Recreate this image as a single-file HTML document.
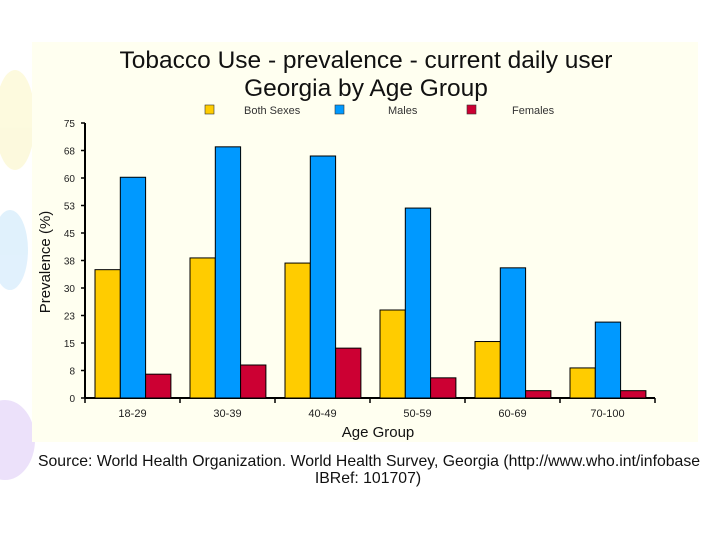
<!DOCTYPE html>
<html><head><meta charset="utf-8"><style>
body{margin:0;width:720px;height:540px;background:#fff;overflow:hidden;font-family:"Liberation Sans",sans-serif;}
</style></head><body>
<svg id="c" width="720" height="540" xmlns="http://www.w3.org/2000/svg">
<g opacity="0.35">
<ellipse cx="5" cy="440" rx="30" ry="40" fill="#c9a8f0"/>
<ellipse cx="10" cy="250" rx="18" ry="40" fill="#a8d8f8"/>
<ellipse cx="15" cy="120" rx="20" ry="50" fill="#f8f0a0"/>
</g>
<rect x="32" y="42" width="666" height="400" fill="#fffff0"/>
<text x="366" y="68" font-size="24.5" text-anchor="middle" fill="#111">Tobacco Use - prevalence - current daily user</text>
<text x="366" y="96" font-size="24.5" text-anchor="middle" fill="#111">Georgia by Age Group</text>
<g id="legend"></g>
<g id="grid"></g>
<g id="bars"></g>
<text x="50" y="262" font-size="15" text-anchor="middle" transform="rotate(-90 50 262)" fill="#111">Prevalence (%)</text>
<text x="378" y="437" font-size="15" text-anchor="middle" fill="#111">Age Group</text>
<text x="369" y="466" font-size="15.8" text-anchor="middle" fill="#111">Source: World Health Organization. World Health Survey, Georgia  (http://www.who.int/infobase</text>
<text x="368" y="483" font-size="15.8" text-anchor="middle" fill="#111">IBRef: 101707)</text>
</svg>
<script>
const categories=["18-29","30-39","40-49","50-59","60-69","70-100"];
const bothSexes=[35,38.2,36.8,24,15.4,8.2];
const males=[60.2,68.5,66,51.8,35.5,20.7];
const females=[6.5,9,13.6,5.5,2,2];
const tickLabels=["0","8","15","23","30","38","45","53","60","68","75"];
const seriesNames=["Both Sexes","Males","Females"];
const colors=["#ffcc00","#0099ff","#cc0033"];
const NS="http://www.w3.org/2000/svg";
const x0=85,x1=655,y0=398,yTop=123,yMax=75;
const yS=v=>y0-(v/yMax)*(y0-yTop);
const gw=(x1-x0)/categories.length;
const xS=i=>x0+i*gw;
function mk(t,a,p){const e=document.createElementNS(NS,t);for(const k in a)e.setAttribute(k,a[k]);p.appendChild(e);return e;}
const grid=document.getElementById('grid');
const ax=mk('line',{x1:x0,y1:yTop,x2:x0,y2:y0,stroke:'#000','stroke-width':2},grid);


const bx=mk('line',{x1:x0,y1:y0,x2:x1,y2:y0,stroke:'#000','stroke-width':2},grid);


tickLabels.forEach((l,i)=>{const v=i*7.5;const y=yS(v);
mk('line',{x1:x0-4,y1:y,x2:x0,y2:y,stroke:'#000','stroke-width':1.5},grid);
const t=mk('text',{x:x0-10,y:y+4,'font-size':10,'text-anchor':'end',fill:'#222'},grid);t.textContent=l;

});
for(let i=0;i<=categories.length;i++){mk('line',{x1:xS(i),y1:y0,x2:xS(i),y2:y0+5,stroke:'#000','stroke-width':1.5},grid);}
const bars=document.getElementById('bars');
const series=[bothSexes,males,females];const bw=25.3;
categories.forEach((c,i)=>{
 series.forEach((s,j)=>{const bxp=xS(i)+10+j*bw;const r=mk('rect',{x:bxp,y:yS(s[i]),width:bw,height:y0-yS(s[i]),fill:colors[j],stroke:'#000','stroke-width':1},bars);
 
 });
 const t=mk('text',{x:xS(i)+gw/2,y:y0+19,'font-size':11,'text-anchor':'middle',fill:'#222'},grid);t.textContent=c;
 
 
});
const lg=document.getElementById('legend');
const lx=[205,335,467],tx=[244,388,512];
seriesNames.forEach((n,j)=>{const g=mk('g',{},lg);


mk('rect',{x:lx[j],y:105,width:9,height:9,fill:colors[j],stroke:'#333','stroke-width':0.6},g);
const t=mk('text',{x:tx[j],y:114,'font-size':11,fill:'#333'},g);t.textContent=n;});
</script>
</body></html>
